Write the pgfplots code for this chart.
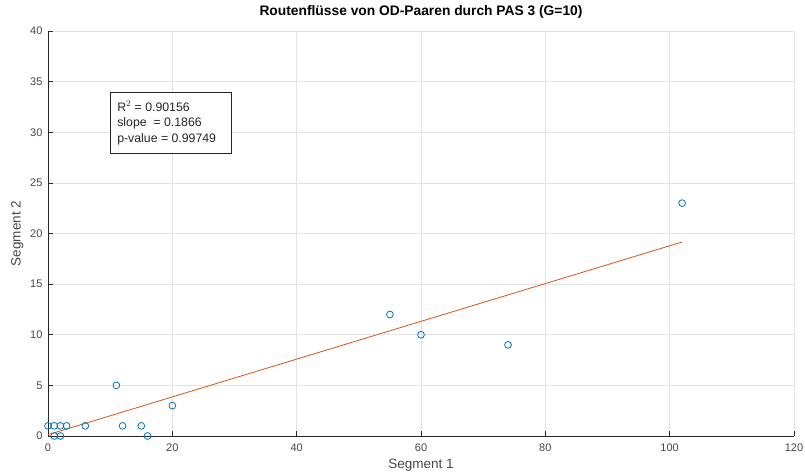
\documentclass[border=0pt]{standalone}
\usepackage{pgfplots}
\pgfplotsset{compat=1.18}
\usepackage{fontspec}
\setmainfont{Liberation Sans}

\definecolor{mblue}{rgb}{0,0.447,0.741}
\definecolor{morange}{rgb}{0.85,0.325,0.098}
\definecolor{axgray}{HTML}{262626}
\definecolor{gridgray}{HTML}{E3E3E3}

\begin{document}
\begin{tikzpicture}[x=1pt,y=1pt]
\path[use as bounding box] (-48,-40) rectangle (757,436);
\begin{axis}[
  at={(0,0)}, anchor=south west,
  scale only axis, width=746pt, height=405pt,
  xmin=0, xmax=120, ymin=0, ymax=40,
  xtick={0,20,...,120}, ytick={0,5,...,40},
  axis x line*=bottom, axis y line*=left,
  axis line style={color=axgray, line width=0.6pt},
  tick style={color=axgray, line width=0.6pt},
  tick align=inside, major tick length=5pt,
  grid=major, major grid style={color=gridgray, line width=0.6pt},
  /pgf/number format/assume math mode=true,
  ticklabel style={font=\fontsize{11}{12}\selectfont, text=axgray!85},
  xticklabel style={yshift=-4pt},
  yticklabel style={xshift=-2pt},
  xlabel={Segment 1}, ylabel={Segment 2},
  label style={font=\fontsize{13.5}{15}\selectfont, text=axgray!85},
  xlabel style={at={(axis description cs:0.5,0)}, anchor=north, yshift=-20pt},
  ylabel style={at={(axis description cs:0,0.5)}, anchor=south, yshift=21pt},
  title={\bfseries Routenflüsse von OD-Paaren durch PAS 3 (G=10)},
  title style={font=\fontsize{13.8}{15}\selectfont, at={(axis description cs:0.5,1)}, anchor=south, yshift=3pt},
  clip=false,
]
% observed route flows
\addplot[only marks, mark=o, mark size=3.4pt, color=mblue, mark options={line width=0.8pt}]
  coordinates {
    (0,1) (1,1) (2,1) (3,1) (1,0) (2,0) (6,1) (11,5) (12,1)
    (15,1) (16,0) (20,3) (55,12) (60,10) (74,9) (102,23)
  };
% least-squares fit
\addplot[color=morange, line width=0.8pt] coordinates {(0,0.13) (102,19.16)};
\node[draw=axgray, fill=white, line width=0.6pt, anchor=north west, align=left,
      inner xsep=0pt, inner ysep=0pt,
      minimum width=121pt, minimum height=61pt, text=axgray]
  at (rel axis cs:0.0831,0.849)
  {\hspace*{6pt}\begin{minipage}{113pt}\fontsize{12.3}{15.5}\selectfont
   R$^{2}$ = 0.90156\\ slope\ \ = 0.1866\\ p-value = 0.99749\end{minipage}};
\end{axis}
\end{tikzpicture}
\end{document}
